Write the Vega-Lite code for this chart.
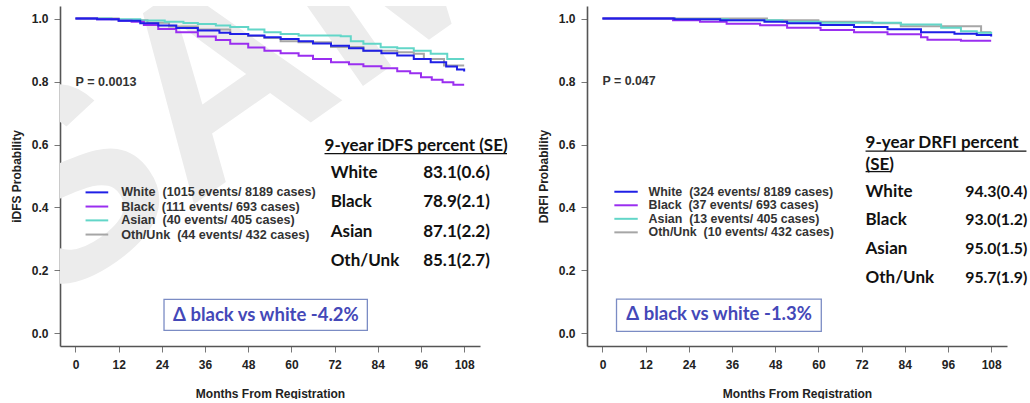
{
  "$schema": "https://vega.github.io/schema/vega-lite/v6.json",
  "background": "white",
  "padding": {"left": 10, "top": 6, "right": 0, "bottom": 0},
  "bounds": "flush",
  "spacing": 107,
  "config": {
    "view": {"stroke": null},
    "axis": {
      "grid": false,
      "domainColor": "#555555",
      "domainWidth": 1.6,
      "tickColor": "#777777",
      "tickSize": 6,
      "labelFont": "Liberation Sans",
      "labelFontWeight": "bold",
      "labelFontSize": 12,
      "labelColor": "#222222",
      "titleFont": "Liberation Sans",
      "titleFontWeight": "bold",
      "titleFontSize": 12,
      "titleColor": "#222222"
    }
  },
  "datasets": {
    "curves": [
      {"panel": "iDFS", "group": "Oth/Unk", "month": 0, "surv": 1.0},
      {"panel": "iDFS", "group": "Oth/Unk", "month": 12, "surv": 0.995},
      {"panel": "iDFS", "group": "Oth/Unk", "month": 20, "surv": 0.987},
      {"panel": "iDFS", "group": "Oth/Unk", "month": 26, "surv": 0.975},
      {"panel": "iDFS", "group": "Oth/Unk", "month": 34, "surv": 0.965},
      {"panel": "iDFS", "group": "Oth/Unk", "month": 43, "surv": 0.951},
      {"panel": "iDFS", "group": "Oth/Unk", "month": 48, "surv": 0.945},
      {"panel": "iDFS", "group": "Oth/Unk", "month": 52.5, "surv": 0.938},
      {"panel": "iDFS", "group": "Oth/Unk", "month": 57, "surv": 0.928},
      {"panel": "iDFS", "group": "Oth/Unk", "month": 62, "surv": 0.925},
      {"panel": "iDFS", "group": "Oth/Unk", "month": 71, "surv": 0.91},
      {"panel": "iDFS", "group": "Oth/Unk", "month": 80, "surv": 0.898},
      {"panel": "iDFS", "group": "Oth/Unk", "month": 89.4, "surv": 0.893},
      {"panel": "iDFS", "group": "Oth/Unk", "month": 94, "surv": 0.888},
      {"panel": "iDFS", "group": "Oth/Unk", "month": 96.8, "surv": 0.872},
      {"panel": "iDFS", "group": "Oth/Unk", "month": 102.4, "surv": 0.851},
      {"panel": "iDFS", "group": "Oth/Unk", "month": 108, "surv": 0.851},
      {"panel": "iDFS", "group": "Asian", "month": 0, "surv": 1.0},
      {"panel": "iDFS", "group": "Asian", "month": 10, "surv": 0.998},
      {"panel": "iDFS", "group": "Asian", "month": 18, "surv": 0.994},
      {"panel": "iDFS", "group": "Asian", "month": 24.8, "surv": 0.99},
      {"panel": "iDFS", "group": "Asian", "month": 30, "surv": 0.986},
      {"panel": "iDFS", "group": "Asian", "month": 34, "surv": 0.983},
      {"panel": "iDFS", "group": "Asian", "month": 39, "surv": 0.978},
      {"panel": "iDFS", "group": "Asian", "month": 43, "surv": 0.973},
      {"panel": "iDFS", "group": "Asian", "month": 48, "surv": 0.965},
      {"panel": "iDFS", "group": "Asian", "month": 52.5, "surv": 0.957},
      {"panel": "iDFS", "group": "Asian", "month": 57, "surv": 0.951},
      {"panel": "iDFS", "group": "Asian", "month": 62, "surv": 0.946},
      {"panel": "iDFS", "group": "Asian", "month": 73.7, "surv": 0.944},
      {"panel": "iDFS", "group": "Asian", "month": 76.5, "surv": 0.928},
      {"panel": "iDFS", "group": "Asian", "month": 80, "surv": 0.92},
      {"panel": "iDFS", "group": "Asian", "month": 84.8, "surv": 0.909},
      {"panel": "iDFS", "group": "Asian", "month": 89.4, "surv": 0.906},
      {"panel": "iDFS", "group": "Asian", "month": 94, "surv": 0.898},
      {"panel": "iDFS", "group": "Asian", "month": 98.7, "surv": 0.888},
      {"panel": "iDFS", "group": "Asian", "month": 103.3, "surv": 0.872},
      {"panel": "iDFS", "group": "Asian", "month": 108, "surv": 0.872},
      {"panel": "iDFS", "group": "Black", "month": 0, "surv": 1.0},
      {"panel": "iDFS", "group": "Black", "month": 6, "surv": 0.998},
      {"panel": "iDFS", "group": "Black", "month": 12, "surv": 0.993},
      {"panel": "iDFS", "group": "Black", "month": 15.6, "surv": 0.99},
      {"panel": "iDFS", "group": "Black", "month": 19, "surv": 0.98},
      {"panel": "iDFS", "group": "Black", "month": 23, "surv": 0.967},
      {"panel": "iDFS", "group": "Black", "month": 28, "surv": 0.957},
      {"panel": "iDFS", "group": "Black", "month": 34, "surv": 0.943},
      {"panel": "iDFS", "group": "Black", "month": 39, "surv": 0.932},
      {"panel": "iDFS", "group": "Black", "month": 43, "surv": 0.92},
      {"panel": "iDFS", "group": "Black", "month": 48, "surv": 0.908},
      {"panel": "iDFS", "group": "Black", "month": 52.5, "surv": 0.898},
      {"panel": "iDFS", "group": "Black", "month": 57, "surv": 0.89},
      {"panel": "iDFS", "group": "Black", "month": 62, "surv": 0.882},
      {"panel": "iDFS", "group": "Black", "month": 66, "surv": 0.872},
      {"panel": "iDFS", "group": "Black", "month": 71, "surv": 0.861},
      {"panel": "iDFS", "group": "Black", "month": 76, "surv": 0.855},
      {"panel": "iDFS", "group": "Black", "month": 80, "surv": 0.849},
      {"panel": "iDFS", "group": "Black", "month": 85, "surv": 0.842},
      {"panel": "iDFS", "group": "Black", "month": 89.4, "surv": 0.833},
      {"panel": "iDFS", "group": "Black", "month": 93, "surv": 0.826},
      {"panel": "iDFS", "group": "Black", "month": 96, "surv": 0.814},
      {"panel": "iDFS", "group": "Black", "month": 99, "surv": 0.806},
      {"panel": "iDFS", "group": "Black", "month": 102, "surv": 0.798},
      {"panel": "iDFS", "group": "Black", "month": 105, "surv": 0.79},
      {"panel": "iDFS", "group": "Black", "month": 108, "surv": 0.79},
      {"panel": "iDFS", "group": "White", "month": 0, "surv": 1.0},
      {"panel": "iDFS", "group": "White", "month": 6, "surv": 0.998},
      {"panel": "iDFS", "group": "White", "month": 12, "surv": 0.993},
      {"panel": "iDFS", "group": "White", "month": 18, "surv": 0.985},
      {"panel": "iDFS", "group": "White", "month": 23, "surv": 0.978},
      {"panel": "iDFS", "group": "White", "month": 28, "surv": 0.97},
      {"panel": "iDFS", "group": "White", "month": 34, "surv": 0.962},
      {"panel": "iDFS", "group": "White", "month": 40, "surv": 0.955},
      {"panel": "iDFS", "group": "White", "month": 43, "surv": 0.951},
      {"panel": "iDFS", "group": "White", "month": 48, "surv": 0.946},
      {"panel": "iDFS", "group": "White", "month": 52.5, "surv": 0.941},
      {"panel": "iDFS", "group": "White", "month": 57, "surv": 0.935},
      {"panel": "iDFS", "group": "White", "month": 62, "surv": 0.928},
      {"panel": "iDFS", "group": "White", "month": 66, "surv": 0.921},
      {"panel": "iDFS", "group": "White", "month": 71, "surv": 0.914},
      {"panel": "iDFS", "group": "White", "month": 76, "surv": 0.906},
      {"panel": "iDFS", "group": "White", "month": 80, "surv": 0.898},
      {"panel": "iDFS", "group": "White", "month": 85, "surv": 0.89},
      {"panel": "iDFS", "group": "White", "month": 89.4, "surv": 0.883},
      {"panel": "iDFS", "group": "White", "month": 94, "surv": 0.872},
      {"panel": "iDFS", "group": "White", "month": 98.7, "surv": 0.861},
      {"panel": "iDFS", "group": "White", "month": 103, "surv": 0.848},
      {"panel": "iDFS", "group": "White", "month": 106, "surv": 0.838},
      {"panel": "iDFS", "group": "White", "month": 108, "surv": 0.832},
      {"panel": "DRFI", "group": "Oth/Unk", "month": 0, "surv": 1.0},
      {"panel": "DRFI", "group": "Oth/Unk", "month": 45.7, "surv": 0.995},
      {"panel": "DRFI", "group": "Oth/Unk", "month": 60, "surv": 0.99},
      {"panel": "DRFI", "group": "Oth/Unk", "month": 75, "surv": 0.985},
      {"panel": "DRFI", "group": "Oth/Unk", "month": 82.9, "surv": 0.976},
      {"panel": "DRFI", "group": "Oth/Unk", "month": 105.2, "surv": 0.957},
      {"panel": "DRFI", "group": "Oth/Unk", "month": 108, "surv": 0.957},
      {"panel": "DRFI", "group": "Asian", "month": 0, "surv": 1.0},
      {"panel": "DRFI", "group": "Asian", "month": 20, "surv": 0.998},
      {"panel": "DRFI", "group": "Asian", "month": 35, "surv": 0.995},
      {"panel": "DRFI", "group": "Asian", "month": 50, "surv": 0.99},
      {"panel": "DRFI", "group": "Asian", "month": 60.6, "surv": 0.987},
      {"panel": "DRFI", "group": "Asian", "month": 75.4, "surv": 0.987},
      {"panel": "DRFI", "group": "Asian", "month": 82.9, "surv": 0.981},
      {"panel": "DRFI", "group": "Asian", "month": 94.1, "surv": 0.971},
      {"panel": "DRFI", "group": "Asian", "month": 99.6, "surv": 0.96},
      {"panel": "DRFI", "group": "Asian", "month": 104, "surv": 0.955},
      {"panel": "DRFI", "group": "Asian", "month": 108, "surv": 0.95},
      {"panel": "DRFI", "group": "Black", "month": 0, "surv": 1.0},
      {"panel": "DRFI", "group": "Black", "month": 19.6, "surv": 0.995},
      {"panel": "DRFI", "group": "Black", "month": 27.1, "surv": 0.99},
      {"panel": "DRFI", "group": "Black", "month": 34.5, "surv": 0.984},
      {"panel": "DRFI", "group": "Black", "month": 43.8, "surv": 0.979},
      {"panel": "DRFI", "group": "Black", "month": 51.3, "surv": 0.971},
      {"panel": "DRFI", "group": "Black", "month": 60.6, "surv": 0.964},
      {"panel": "DRFI", "group": "Black", "month": 69.9, "surv": 0.957},
      {"panel": "DRFI", "group": "Black", "month": 79.2, "surv": 0.95},
      {"panel": "DRFI", "group": "Black", "month": 88.5, "surv": 0.941},
      {"panel": "DRFI", "group": "Black", "month": 90.3, "surv": 0.933},
      {"panel": "DRFI", "group": "Black", "month": 99.6, "surv": 0.93},
      {"panel": "DRFI", "group": "Black", "month": 108, "surv": 0.93},
      {"panel": "DRFI", "group": "White", "month": 0, "surv": 1.0},
      {"panel": "DRFI", "group": "White", "month": 20, "surv": 0.998},
      {"panel": "DRFI", "group": "White", "month": 32.7, "surv": 0.995},
      {"panel": "DRFI", "group": "White", "month": 45, "surv": 0.99},
      {"panel": "DRFI", "group": "White", "month": 51.3, "surv": 0.985},
      {"panel": "DRFI", "group": "White", "month": 60.6, "surv": 0.98},
      {"panel": "DRFI", "group": "White", "month": 69.9, "surv": 0.973},
      {"panel": "DRFI", "group": "White", "month": 79.2, "surv": 0.966},
      {"panel": "DRFI", "group": "White", "month": 88.5, "surv": 0.957},
      {"panel": "DRFI", "group": "White", "month": 97.8, "surv": 0.952},
      {"panel": "DRFI", "group": "White", "month": 104, "surv": 0.948},
      {"panel": "DRFI", "group": "White", "month": 108, "surv": 0.943}
    ],
    "keys": [
      {"panel": "iDFS", "group": "White", "month": 2.8, "month2": 9.1, "surv": 0.448},
      {"panel": "iDFS", "group": "Black", "month": 2.8, "month2": 9.1, "surv": 0.403},
      {"panel": "iDFS", "group": "Asian", "month": 2.8, "month2": 9.1, "surv": 0.359},
      {"panel": "iDFS", "group": "Oth/Unk", "month": 2.8, "month2": 9.1, "surv": 0.314},
      {"panel": "DRFI", "group": "White", "month": 3.3, "month2": 9.8, "surv": 0.45},
      {"panel": "DRFI", "group": "Black", "month": 3.3, "month2": 9.8, "surv": 0.407},
      {"panel": "DRFI", "group": "Asian", "month": 3.3, "month2": 9.8, "surv": 0.364},
      {"panel": "DRFI", "group": "Oth/Unk", "month": 3.3, "month2": 9.8, "surv": 0.321}
    ],
    "notes": [
      {"panel": "iDFS", "kind": "small", "month": 0, "surv": 0.8, "label": "P = 0.0013"},
      {"panel": "iDFS", "kind": "small", "month": 12.7, "surv": 0.448, "label": "White\u00a0 (1015 events/ 8189 cases)"},
      {"panel": "iDFS", "kind": "small", "month": 12.7, "surv": 0.403, "label": "Black\u00a0 (111 events/ 693 cases)"},
      {"panel": "iDFS", "kind": "small", "month": 12.7, "surv": 0.359, "label": "Asian\u00a0 (40 events/ 405 cases)"},
      {"panel": "iDFS", "kind": "small", "month": 12.7, "surv": 0.314, "label": "Oth/Unk\u00a0 (44 events/ 432 cases)"},
      {"panel": "iDFS", "kind": "table", "month": 69.2, "surv": 0.594, "label": "9-year iDFS percent (SE)"},
      {"panel": "iDFS", "kind": "table", "month": 70.9, "surv": 0.508, "label": "White"},
      {"panel": "iDFS", "kind": "table", "month": 70.9, "surv": 0.416, "label": "Black"},
      {"panel": "iDFS", "kind": "table", "month": 70.9, "surv": 0.321, "label": "Asian"},
      {"panel": "iDFS", "kind": "table", "month": 70.9, "surv": 0.229, "label": "Oth/Unk"},
      {"panel": "iDFS", "kind": "table", "month": 96.6, "surv": 0.508, "label": "83.1(0.6)"},
      {"panel": "iDFS", "kind": "table", "month": 96.6, "surv": 0.416, "label": "78.9(2.1)"},
      {"panel": "iDFS", "kind": "table", "month": 96.6, "surv": 0.321, "label": "87.1(2.2)"},
      {"panel": "iDFS", "kind": "table", "month": 96.6, "surv": 0.229, "label": "85.1(2.7)"},
      {"panel": "iDFS", "kind": "delta", "month": 52.9, "surv": 0.057, "label": "Δ black vs white -4.2%"},
      {"panel": "DRFI", "kind": "small", "month": 0, "surv": 0.802, "label": "P = 0.047"},
      {"panel": "DRFI", "kind": "small", "month": 12.8, "surv": 0.45, "label": "White\u00a0 (324 events/ 8189 cases)"},
      {"panel": "DRFI", "kind": "small", "month": 12.8, "surv": 0.407, "label": "Black\u00a0 (37 events/ 693 cases)"},
      {"panel": "DRFI", "kind": "small", "month": 12.8, "surv": 0.364, "label": "Asian\u00a0 (13 events/ 405 cases)"},
      {"panel": "DRFI", "kind": "small", "month": 12.8, "surv": 0.321, "label": "Oth/Unk\u00a0 (10 events/ 432 cases)"},
      {"panel": "DRFI", "kind": "table", "month": 73.1, "surv": 0.604, "label": "9-year DRFI percent"},
      {"panel": "DRFI", "kind": "table", "month": 73.1, "surv": 0.534, "label": "(SE)"},
      {"panel": "DRFI", "kind": "table", "month": 73.1, "surv": 0.45, "label": "White"},
      {"panel": "DRFI", "kind": "table", "month": 73.1, "surv": 0.361, "label": "Black"},
      {"panel": "DRFI", "kind": "table", "month": 73.1, "surv": 0.268, "label": "Asian"},
      {"panel": "DRFI", "kind": "table", "month": 73.1, "surv": 0.176, "label": "Oth/Unk"},
      {"panel": "DRFI", "kind": "value", "month": 100.8, "surv": 0.45, "label": "94.3(0.4)"},
      {"panel": "DRFI", "kind": "value", "month": 100.8, "surv": 0.361, "label": "93.0(1.2)"},
      {"panel": "DRFI", "kind": "value", "month": 100.8, "surv": 0.268, "label": "95.0(1.5)"},
      {"panel": "DRFI", "kind": "value", "month": 100.8, "surv": 0.176, "label": "95.7(1.9)"},
      {"panel": "DRFI", "kind": "delta", "month": 32.4, "surv": 0.061, "label": "Δ black vs white -1.3%"}
    ],
    "underlines": [
      {"panel": "iDFS", "month": 69.2, "month2": 119.9, "surv": 0.571},
      {"panel": "DRFI", "month": 73.1, "month2": 117.8, "surv": 0.579},
      {"panel": "DRFI", "month": 73.1, "month2": 80.1, "surv": 0.514}
    ],
    "boxes": [
      {"panel": "iDFS", "month": 24.6, "month2": 81.1, "surv": 0.108, "surv2": 0.0095},
      {"panel": "DRFI", "month": 3.9, "month2": 60.8, "surv": 0.109, "surv2": 0.0064}
    ],
    "watermark": [
      {"panel": "iDFS", "month": -9.6, "surv": 0.07, "label": "SAMPLE"}
    ]
  },
  "hconcat": [
    {
      "width": 420,
      "height": 340,
      "encoding": {
        "x": {
          "field": "month", "type": "quantitative",
          "scale": {"domain": [-4.3, 112.4], "nice": false, "zero": false},
          "axis": {"values": [0, 12, 24, 36, 48, 60, 72, 84, 96, 108], "title": "Months From Registration", "labelPadding": 7, "titlePadding": 18}
        },
        "y": {
          "field": "surv", "type": "quantitative",
          "scale": {"domain": [-0.04, 1.04], "nice": false, "zero": false},
          "axis": {"values": [0, 0.2, 0.4, 0.6, 0.8, 1], "format": ".1f", "title": "iDFS Probability", "labelPadding": 6, "titlePadding": 8}
        }
      },
      "layer": [
        {
          "data": {"name": "watermark"},
          "mark": {"type": "text", "clip": true, "angle": -35, "align": "left", "baseline": "alphabetic", "font": "Liberation Sans", "fontWeight": "bold", "fontSize": 270, "color": "#ececec"},
          "encoding": {"text": {"field": "label"}}
        },
        {
          "data": {"name": "curves"},
          "transform": [{"filter": "datum.panel === 'iDFS'"}],
          "mark": {"type": "line", "interpolate": "step-after", "strokeWidth": 2},
          "encoding": {
            "color": {"field": "group", "type": "nominal", "sort": null, "scale": {"domain": ["White", "Black", "Asian", "Oth/Unk"], "range": ["#1f1fe6", "#9a2ef0", "#62d6c8", "#a6a6a6"]}, "legend": null}
          }
        },
        {
          "data": {"name": "keys"},
          "transform": [{"filter": "datum.panel === 'iDFS'"}],
          "mark": {"type": "rule", "strokeWidth": 2},
          "encoding": {"x2": {"field": "month2"}, "color": {"field": "group", "type": "nominal"}}
        },
        {
          "data": {"name": "notes"},
          "transform": [{"filter": "datum.panel === 'iDFS' && datum.kind === 'small'"}],
          "mark": {"type": "text", "align": "left", "baseline": "middle", "font": "Liberation Sans", "fontWeight": "bold", "fontSize": 12.6, "color": "#333333"},
          "encoding": {"text": {"field": "label"}}
        },
        {
          "data": {"name": "notes"},
          "transform": [{"filter": "datum.panel === 'iDFS' && datum.kind === 'table'"}],
          "mark": {"type": "text", "align": "left", "baseline": "middle", "font": "Lato", "fontWeight": "bold", "fontSize": 17, "color": "#111111"},
          "encoding": {"text": {"field": "label"}}
        },
        {
          "data": {"name": "underlines"},
          "transform": [{"filter": "datum.panel === 'iDFS'"}],
          "mark": {"type": "rule", "color": "#111111", "strokeWidth": 1.3},
          "encoding": {"x2": {"field": "month2"}}
        },
        {
          "data": {"name": "boxes"},
          "transform": [{"filter": "datum.panel === 'iDFS'"}],
          "mark": {"type": "rect", "fill": "white", "stroke": "#7b8cc4", "strokeWidth": 1.3},
          "encoding": {"x2": {"field": "month2"}, "y2": {"field": "surv2"}}
        },
        {
          "data": {"name": "notes"},
          "transform": [{"filter": "datum.panel === 'iDFS' && datum.kind === 'delta'"}],
          "mark": {"type": "text", "align": "center", "baseline": "middle", "font": "Lato", "fontWeight": "bold", "fontSize": 18.5, "color": "#4448b8"},
          "encoding": {"text": {"field": "label"}}
        }
      ]
    },
    {
      "width": 420,
      "height": 340,
      "encoding": {
        "x": {
          "field": "month", "type": "quantitative",
          "scale": {"domain": [-4.3, 112.4], "nice": false, "zero": false},
          "axis": {"values": [0, 12, 24, 36, 48, 60, 72, 84, 96, 108], "title": "Months From Registration", "labelPadding": 7, "titlePadding": 18}
        },
        "y": {
          "field": "surv", "type": "quantitative",
          "scale": {"domain": [-0.04, 1.04], "nice": false, "zero": false},
          "axis": {"values": [0, 0.2, 0.4, 0.6, 0.8, 1], "format": ".1f", "title": "DRFI Probability", "labelPadding": 6, "titlePadding": 8}
        }
      },
      "layer": [
        {
          "data": {"name": "curves"},
          "transform": [{"filter": "datum.panel === 'DRFI'"}],
          "mark": {"type": "line", "interpolate": "step-after", "strokeWidth": 2},
          "encoding": {
            "color": {"field": "group", "type": "nominal", "sort": null, "scale": {"domain": ["White", "Black", "Asian", "Oth/Unk"], "range": ["#1f1fe6", "#9a2ef0", "#62d6c8", "#a6a6a6"]}, "legend": null}
          }
        },
        {
          "data": {"name": "keys"},
          "transform": [{"filter": "datum.panel === 'DRFI'"}],
          "mark": {"type": "rule", "strokeWidth": 2},
          "encoding": {"x2": {"field": "month2"}, "color": {"field": "group", "type": "nominal"}}
        },
        {
          "data": {"name": "notes"},
          "transform": [{"filter": "datum.panel === 'DRFI' && datum.kind === 'small'"}],
          "mark": {"type": "text", "align": "left", "baseline": "middle", "font": "Liberation Sans", "fontWeight": "bold", "fontSize": 12.4, "color": "#333333"},
          "encoding": {"text": {"field": "label"}}
        },
        {
          "data": {"name": "notes"},
          "transform": [{"filter": "datum.panel === 'DRFI' && datum.kind === 'table'"}],
          "mark": {"type": "text", "align": "left", "baseline": "middle", "font": "Lato", "fontWeight": "bold", "fontSize": 17, "color": "#111111"},
          "encoding": {"text": {"field": "label"}}
        },
        {
          "data": {"name": "notes"},
          "transform": [{"filter": "datum.panel === 'DRFI' && datum.kind === 'value'"}],
          "mark": {"type": "text", "align": "left", "baseline": "middle", "font": "Lato", "fontWeight": "bold", "fontSize": 15.8, "color": "#111111"},
          "encoding": {"text": {"field": "label"}}
        },
        {
          "data": {"name": "underlines"},
          "transform": [{"filter": "datum.panel === 'DRFI'"}],
          "mark": {"type": "rule", "color": "#111111", "strokeWidth": 1.3},
          "encoding": {"x2": {"field": "month2"}}
        },
        {
          "data": {"name": "boxes"},
          "transform": [{"filter": "datum.panel === 'DRFI'"}],
          "mark": {"type": "rect", "fill": "white", "stroke": "#7b8cc4", "strokeWidth": 1.3},
          "encoding": {"x2": {"field": "month2"}, "y2": {"field": "surv2"}}
        },
        {
          "data": {"name": "notes"},
          "transform": [{"filter": "datum.panel === 'DRFI' && datum.kind === 'delta'"}],
          "mark": {"type": "text", "align": "center", "baseline": "middle", "font": "Lato", "fontWeight": "bold", "fontSize": 18.5, "color": "#4448b8"},
          "encoding": {"text": {"field": "label"}}
        }
      ]
    }
  ]
}
